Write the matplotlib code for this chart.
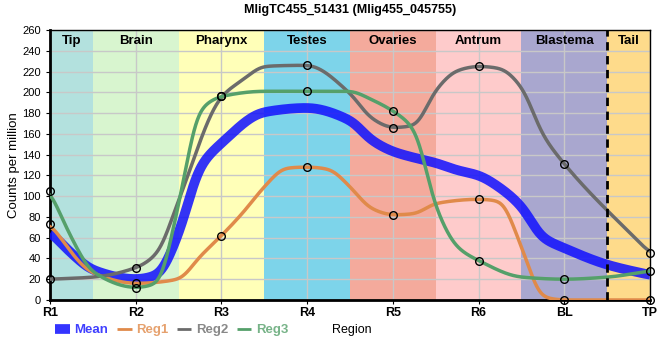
import numpy as np
import matplotlib.pyplot as plt
from matplotlib.lines import Line2D

plt.rcParams['font.family'] = ['Liberation Sans', 'DejaVu Sans']

# Categories and measured values (markers)
regions = ['R1', 'R2', 'R3', 'R4', 'R5', 'R6', 'BL', 'TP']
reg1 = [73, 16, 62, 128, 82, 97, 0, 0]
reg2 = [20, 31, 196, 226, 166, 225, 131, 45]
reg3 = [105, 12, 196, 201, 182, 38, 20, 28]

# Curve nodes (x in category units)
reg1_x = [0, 0.5, 1, 1.5, 1.75, 2, 2.25, 2.5, 2.75, 3, 3.25, 3.5, 3.75, 4, 4.25, 4.5, 5, 5.25, 5.5, 5.75, 6, 7]
reg1_y = [73, 26, 16, 20, 42, 62, 84, 109, 127, 128, 126, 109, 88, 82, 83, 93, 97, 95, 51, 3, 0, 0]
reg2_x = [0, 0.5, 1, 1.25, 1.5, 2, 2.25, 2.5, 3, 3.5, 3.75, 4, 4.25, 4.5, 4.75, 5, 5.25, 5.5, 5.75, 6, 7]
reg2_y = [20, 22, 31, 45, 96, 196, 212, 225, 226, 199, 175, 166, 168, 202, 221, 225, 223, 205, 159, 131, 45]
reg3_x = [0, 0.25, 0.5, 1, 1.25, 1.5, 1.75, 2, 2.5, 3, 3.5, 3.75, 4, 4.25, 4.5, 4.75, 5, 5.5, 6, 6.5, 7]
reg3_y = [105, 60, 27, 12, 16, 92, 183, 196, 201, 201, 201, 193, 182, 164, 90, 51, 38, 22, 20, 22, 28]
mean_x = [0, 0.25, 0.5, 1, 1.25, 1.5, 1.75, 2, 2.5, 3, 3.5, 3.75, 4, 4.25, 4.5, 4.75, 5, 5.25, 5.5, 5.75, 6, 6.5, 7]
mean_y = [66, 45, 29, 20, 24, 64, 128, 151, 181, 185, 173, 154, 143, 137, 132, 125, 120, 108, 90, 60, 50, 34, 24]

# Tissue bands
band_names = ['Tip', 'Brain', 'Pharynx', 'Testes', 'Ovaries', 'Antrum', 'Blastema', 'Tail']
band_edges = [0, 0.5, 1.5, 2.5, 3.5, 4.5, 5.5, 6.5, 7]
band_colors = ['#b3e1de', '#d8f5cf', '#ffffb8', '#7dd4ea', '#f4aa9c', '#fecbcb', '#a9a7cf', '#fedb8b']


def pchip(x, y, xs):
    x = np.asarray(x, float)
    y = np.asarray(y, float)
    h = np.diff(x)
    d = np.diff(y) / h
    m = np.zeros_like(y)
    m[0] = d[0]
    m[-1] = d[-1]
    for k in range(1, len(x) - 1):
        if d[k - 1] * d[k] <= 0:
            m[k] = 0
        else:
            w1 = 2 * h[k] + h[k - 1]
            w2 = h[k] + 2 * h[k - 1]
            m[k] = (w1 + w2) / (w1 / d[k - 1] + w2 / d[k])
    idx = np.clip(np.searchsorted(x, xs) - 1, 0, len(x) - 2)
    t = (xs - x[idx]) / h[idx]
    h00 = 2 * t**3 - 3 * t**2 + 1
    h10 = t**3 - 2 * t**2 + t
    h01 = -2 * t**3 + 3 * t**2
    h11 = t**3 - t**2
    return h00 * y[idx] + h10 * h[idx] * m[idx] + h01 * y[idx + 1] + h11 * h[idx] * m[idx + 1]


def smooth_curve(x, y, xs, sigma=0.06):
    # round off the corners of the interpolated line
    ys = pchip(x, y, xs)
    step = xs[1] - xs[0]
    n = int(3 * sigma / step)
    k = np.exp(-0.5 * (np.arange(-n, n + 1) * step / sigma) ** 2)
    k /= k.sum()
    padded = np.concatenate([np.full(n, ys[0]), ys, np.full(n, ys[-1])])
    return np.convolve(padded, k, mode='valid')


fig = plt.figure(figsize=(6.6, 3.6), dpi=100)
ax = fig.add_axes([0.0758, 0.1667, 0.9091, 0.75])

for i, name in enumerate(band_names):
    ax.axvspan(band_edges[i], band_edges[i + 1], color=band_colors[i], lw=0, zorder=0)
    ax.text((band_edges[i] + band_edges[i + 1]) / 2, 255, name, ha='center', va='top',
            fontsize=9.5, fontweight='bold', zorder=5)

ax.grid(True, color='#c8c8c8', lw=1, zorder=1)
ax.set_axisbelow(True)
ax.axvline(6.5, color='black', ls=(0, (3, 2)), lw=2, zorder=6)

xs = np.linspace(0, 7, 1401)
xi = np.arange(len(regions))
ax.plot(xs, smooth_curve(mean_x, mean_y, xs), color='#1010ff', lw=7, alpha=0.85, zorder=3,
        solid_capstyle='butt')
ax.plot(xs, smooth_curve(reg1_x, reg1_y, xs), color='#e08a4a', lw=2.5, zorder=3)
ax.plot(xs, smooth_curve(reg2_x, reg2_y, xs), color='#6b6b6b', lw=2.5, zorder=3)
ax.plot(xs, smooth_curve(reg3_x, reg3_y, xs), color='#55a06a', lw=2.5, zorder=3)
for vals in (reg1, reg2, reg3):
    ax.plot(xi, vals, ls='none', marker='o', ms=5.5, mfc='none', mec='black', mew=1, zorder=7,
            clip_on=False)

ax.set_xlim(0, 7)
ax.set_ylim(0, 260)
ax.set_xticks(xi)
ax.set_xticklabels(regions, fontsize=9, fontweight='bold')
ax.set_yticks(range(0, 261, 20))
ax.tick_params(axis='y', labelsize=8, length=3)
ax.tick_params(axis='x', length=3, pad=2)
ax.set_ylabel('Counts per million', fontsize=9.5, labelpad=2)
ax.set_title('MligTC455_51431 (Mlig455_045755)', fontsize=9, fontweight='bold', pad=12)
for s in ['left', 'bottom']:
    ax.spines[s].set_linewidth(2)
for s in ['top', 'right']:
    ax.spines[s].set_linewidth(1)

handles = [Line2D([], [], color='#1010ff', lw=7, alpha=0.85, solid_capstyle='butt'),
           Line2D([], [], color='#e08a4a', lw=2, solid_capstyle='butt'),
           Line2D([], [], color='#6b6b6b', lw=2, solid_capstyle='butt'),
           Line2D([], [], color='#55a06a', lw=2, solid_capstyle='butt')]
labels = ['Mean', 'Reg1', 'Reg2', 'Reg3']
leg = fig.legend(handles, labels, loc='center left', bbox_to_anchor=(0.066, 0.083), ncol=4,
                 frameon=False, handlelength=1.1, handletextpad=0.35, columnspacing=0.65,
                 prop={'size': 9.5, 'weight': 'bold'})
for txt, h in zip(leg.get_texts(), handles):
    txt.set_color(h.get_color())
    txt.set_alpha(0.8)
fig.text(0.503, 0.083, 'Region', fontsize=9, va='center')

fig.savefig('out.png', dpi=100)
